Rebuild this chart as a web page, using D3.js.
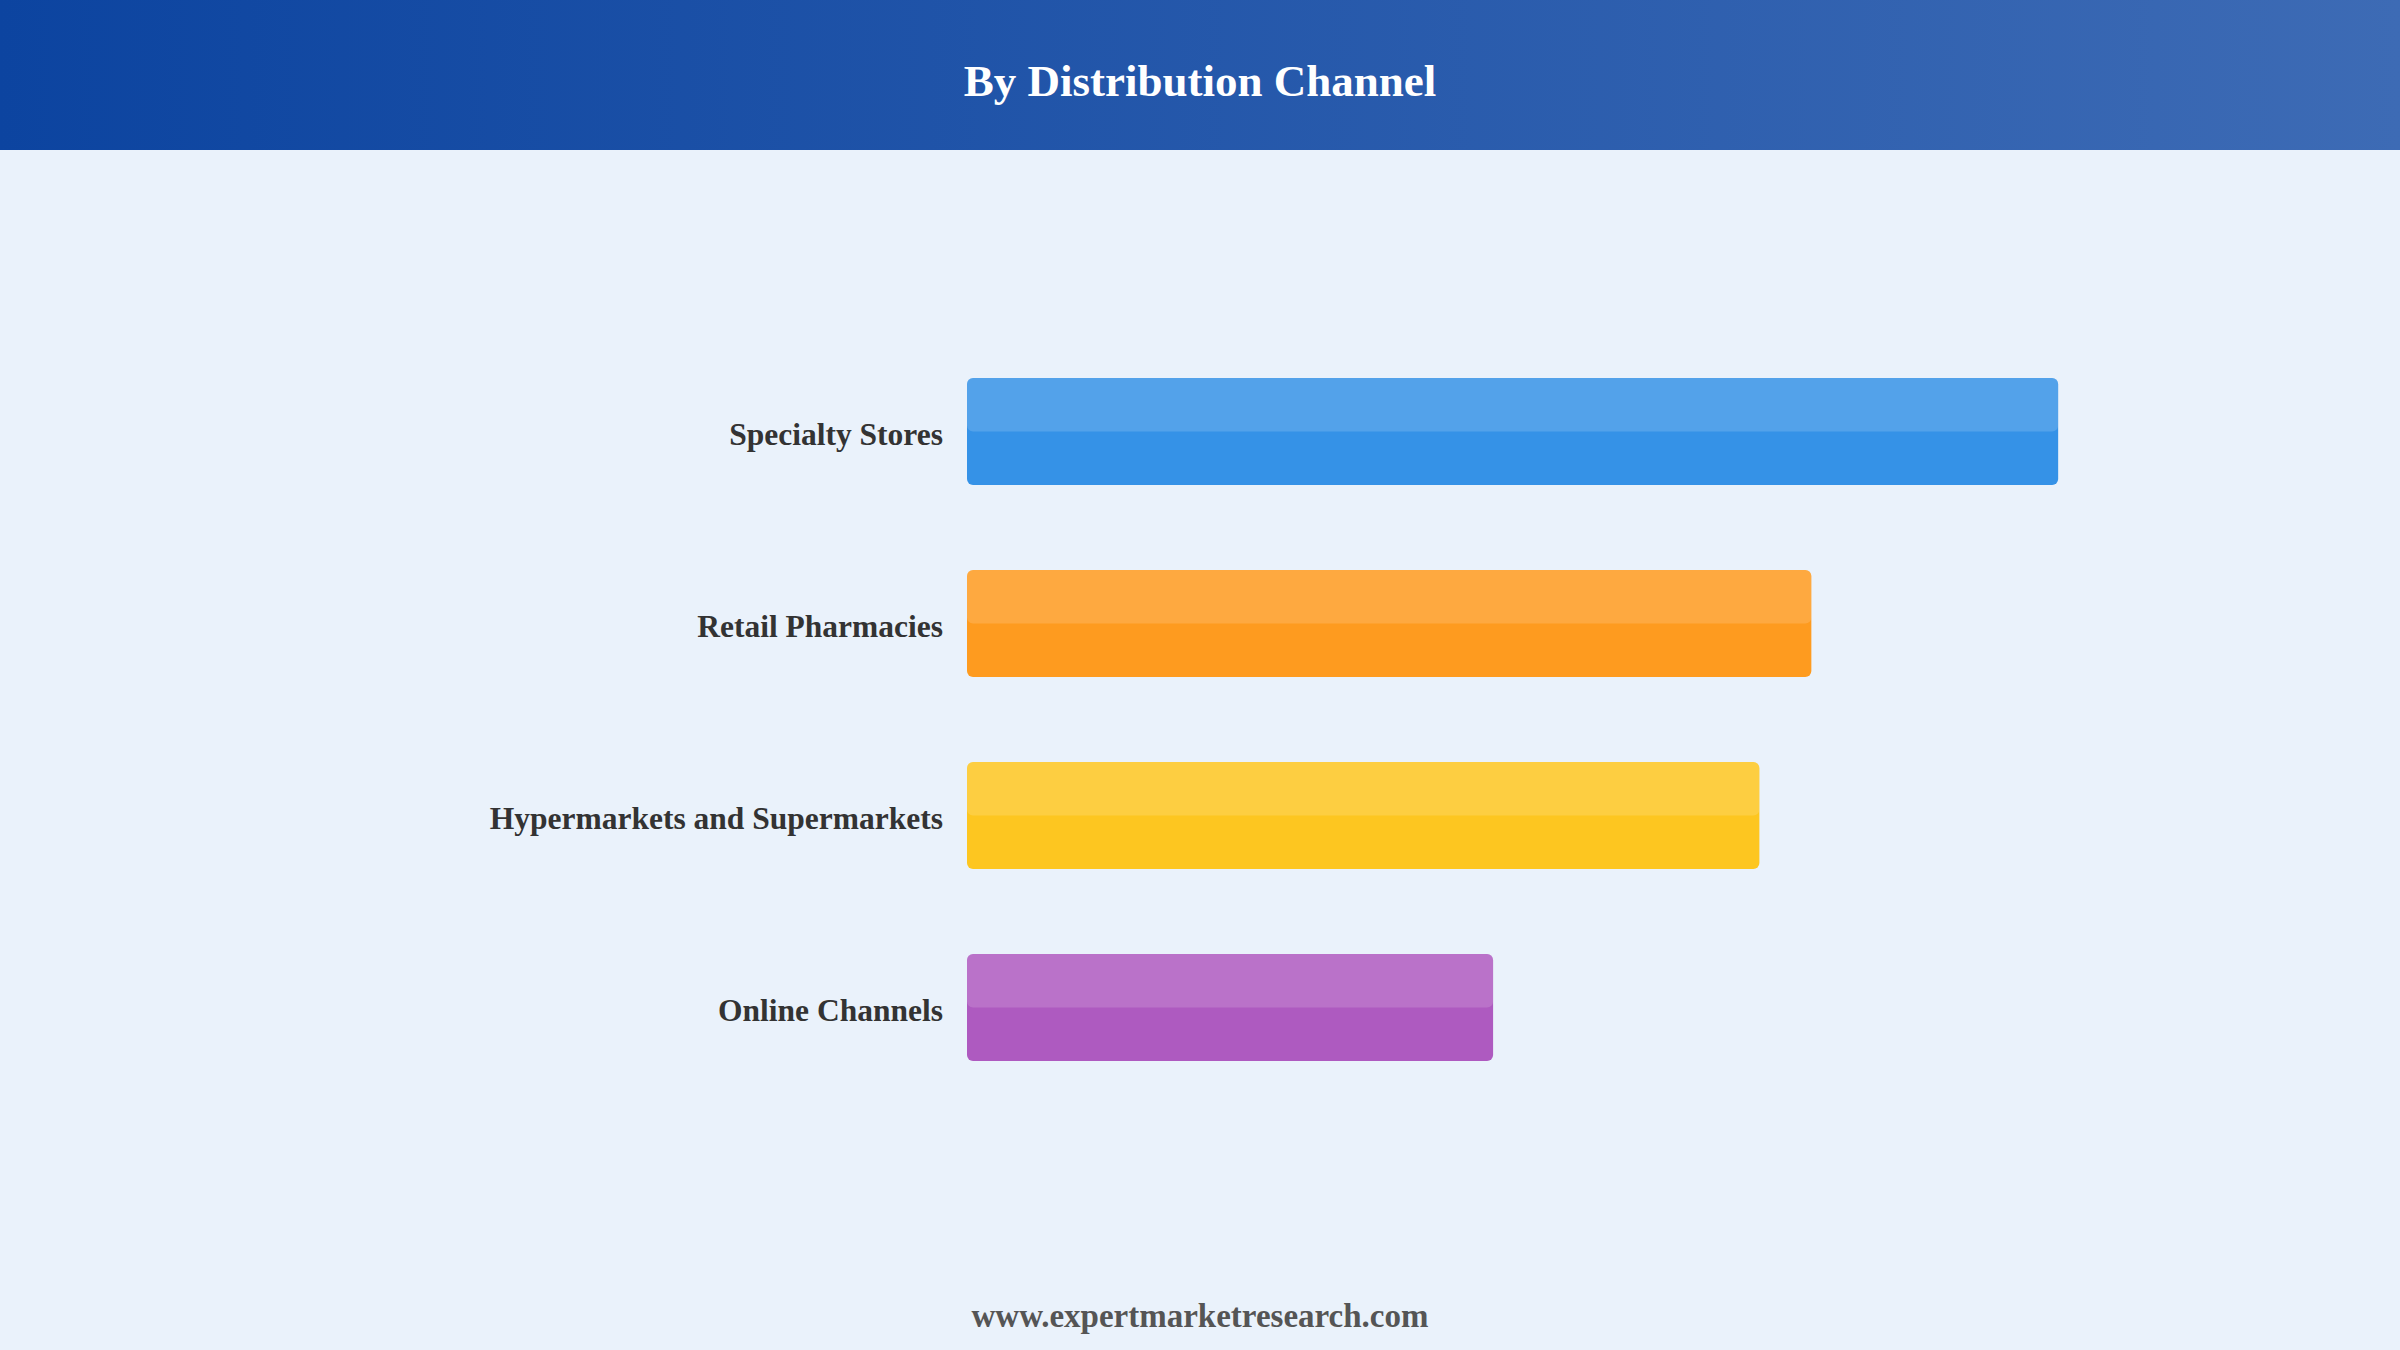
<!DOCTYPE html>
<html lang="en">
<head>
    <meta charset="UTF-8">
    <title>By Distribution Channel</title>
    <script src="https://d3js.org/d3.v7.min.js"></script>
    <style>
        html, body { margin: 0; padding: 0; background: #eaf2fb; }
        svg { display: block; }
    </style>
</head>
<body>
    <div id="chart"></div>
    <script>
        // channel shares (approx. %)
        const channels = ["Specialty Stores", "Retail Pharmacies", "Hypermarkets and Supermarkets", "Online Channels"];
        const shares = [33.6, 26.0, 24.4, 16.2];
        const barColors = ["#3592e7", "#fe9b1f", "#fdc620", "#ae5ac0"];

        const W = 2400, H = 1350;
        const fontFam = "'Liberation Serif', 'Times New Roman', serif";

        const svg = d3.select("#chart")
            .append("svg")
            .attr("width", W)
            .attr("height", H);

        // fond + bandeau
        const defs = svg.append("defs");
        const grad = defs.append("linearGradient")
            .attr("id", "head")
            .attr("x1", "0%").attr("x2", "100%")
            .attr("y1", "0%").attr("y2", "0%");
        grad.append("stop").attr("offset", "0%").attr("stop-color", "#0c44a0");
        grad.append("stop").attr("offset", "100%").attr("stop-color", "#3d6bb5");

        svg.append("rect")
            .attr("width", W).attr("height", H)
            .attr("fill", "#eaf2fb");

        svg.append("rect")
            .attr("width", W).attr("height", 150)
            .attr("fill", "url(#head)");

        svg.append("text")
            .attr("x", W / 2)
            .attr("y", 96)
            .attr("text-anchor", "middle")
            .attr("font-family", fontFam)
            .attr("font-weight", "bold")
            .attr("font-size", 45)
            .attr("fill", "#ffffff")
            .text("By Distribution Channel");

        // echelles
        const x = d3.scaleLinear()
            .domain([0, 40])
            .range([967, 2266]);

        const y = d3.scaleBand()
            .domain(channels)
            .range([378, 1061])
            .paddingInner(0.443)
            .paddingOuter(0);

        const data = channels.map((c, i) => ({ name: c, value: shares[i], color: barColors[i] }));

        // barres
        svg.selectAll(".bar")
            .data(data)
            .join("rect")
            .attr("class", "bar")
            .attr("x", x(0))
            .attr("y", d => y(d.name))
            .attr("width", d => x(d.value) - x(0))
            .attr("height", y.bandwidth())
            .attr("rx", 6)
            .attr("fill", d => d.color);

        // reflet sur la moitie haute
        svg.selectAll(".bar-top")
            .data(data)
            .join("rect")
            .attr("class", "bar-top")
            .attr("x", x(0))
            .attr("y", d => y(d.name))
            .attr("width", d => x(d.value) - x(0))
            .attr("height", y.bandwidth() / 2)
            .attr("rx", 6)
            .attr("fill", "#ffffff")
            .attr("fill-opacity", 0.15);

        // libelles
        svg.selectAll(".label")
            .data(data)
            .join("text")
            .attr("class", "label")
            .attr("x", x(0) - 24)
            .attr("y", d => y(d.name) + y.bandwidth() / 2)
            .attr("dy", "0.42em")
            .attr("text-anchor", "end")
            .attr("font-family", fontFam)
            .attr("font-weight", "bold")
            .attr("font-size", 31.5)
            .attr("fill", "#333333")
            .text(d => d.name);

        // pied de page
        svg.append("text")
            .attr("x", W / 2)
            .attr("y", 1327)
            .attr("text-anchor", "middle")
            .attr("font-family", fontFam)
            .attr("font-weight", "bold")
            .attr("font-size", 33)
            .attr("fill", "#555555")
            .text("www.expertmarketresearch.com");
    </script>
</body>
</html>
